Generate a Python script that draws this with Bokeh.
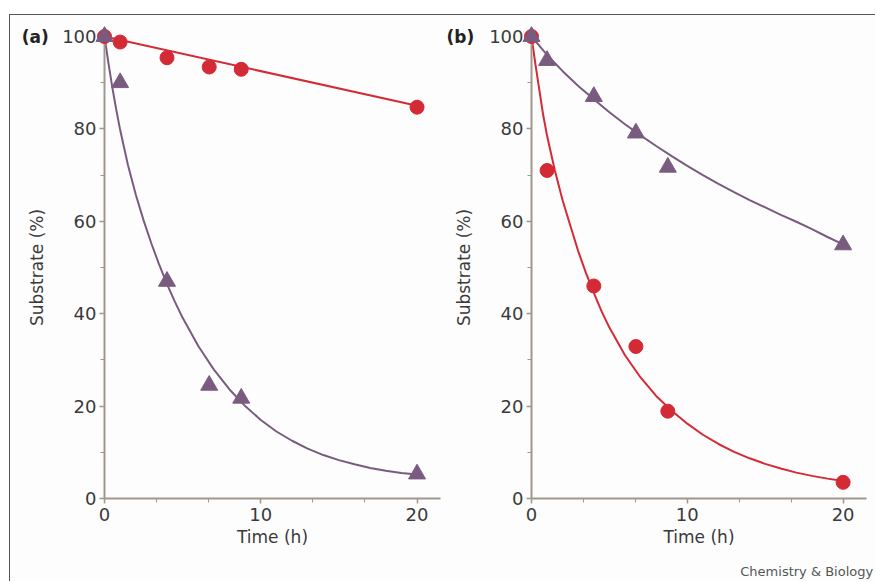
from bokeh.plotting import figure
from bokeh.models import Range1d, SingleIntervalTicker, ColumnDataSource
from bokeh.layouts import row
from bokeh.embed import file_html
from bokeh.resources import INLINE
from bokeh.core.properties import value

# ---- data ----
time_h = [0, 1, 4, 6.7, 8.75, 20]

a_circles = [100, 98.8, 95.4, 93.4, 92.9, 84.7]
a_triangles = [100, 90, 47, 24.5, 21.7, 5.3]
b_circles = [100, 71, 46, 32.9, 18.9, 3.5]
b_triangles = [100, 94.8, 87, 79.1, 71.7, 54.9]

# fitted curves
a_circle_fit_t = [0, 20]
a_circle_fit_y = [100, 85]
a_triangle_fit_t = [0, 0.25, 0.5, 0.75, 1, 1.5, 2, 2.5, 3, 3.5, 4, 4.5, 5, 6, 7, 8, 9, 10,
                    11, 12, 13, 14, 15, 16, 17, 18, 19, 20]
a_triangle_fit_y = [100, 94.3, 89, 84.2, 79.8, 72.2, 65.8, 60.2, 55.2, 50.6, 46.4, 42.6, 39.1,
                    33, 27.9, 23.6, 20, 17, 14.5, 12.5, 10.8, 9.4, 8.3, 7.4, 6.6, 6, 5.5, 5.2]

b_circle_fit_t = [0, 0.25, 0.5, 0.75, 1, 1.5, 2, 2.5, 3, 3.5, 4, 4.5, 5, 6, 7, 8, 9, 10,
                  11, 12, 13, 14, 15, 16, 17, 18, 19, 20]
b_circle_fit_y = [100, 94, 88.5, 83, 78.5, 71, 64.5, 59, 53.5, 48.8, 44.5, 40.5, 37, 31,
                  26.2, 22.2, 19, 16.2, 13.8, 11.8, 10.1, 8.7, 7.5, 6.5, 5.6, 4.9, 4.3, 3.8]
b_triangle_fit_t = [0, 1, 2, 3, 4, 5, 6, 7, 8, 9, 10, 11, 12, 13, 14, 15, 16, 17, 18, 19, 20]
b_triangle_fit_y = [100, 96, 92.5, 89.3, 86.4, 83.6, 81, 78.6, 76.3, 74.1, 72, 70, 68.1,
                    66.3, 64.6, 63, 61.4, 59.9, 58.3, 56.6, 55]

x_label = "Time (h)"
y_label = "Substrate (%)"
credit = "Chemistry & Biology"

RED = "#d42a35"
PURPLE = "#7a5b80"
AXIS = "#a0978d"
FONT = "DejaVu Sans"
BG = "#fdfdfd"

H = 566


def panel(tag, tag_x, circ, tri, cft, cfy, tft, tfy, width, mbl, mbr, credit_text=None):
    p = figure(width=width, height=H, x_range=Range1d(0, 21.5), y_range=Range1d(0, 100),
               output_backend="svg", toolbar_location=None,
               min_border_left=mbl, min_border_right=mbr, min_border_top=21,
               min_border_bottom=H - 21 - 462)
    p.outline_line_color = None
    p.grid.grid_line_color = None
    p.background_fill_color = BG
    p.border_fill_color = BG

    p.xaxis.ticker = SingleIntervalTicker(interval=10, num_minor_ticks=3)
    p.yaxis.ticker = SingleIntervalTicker(interval=20, num_minor_ticks=2)
    for ax in (p.xaxis[0], p.yaxis[0]):
        ax.axis_line_color = AXIS
        ax.axis_line_width = 2
        ax.major_tick_line_color = AXIS
        ax.minor_tick_line_color = AXIS
        ax.major_tick_line_width = 1.5
        ax.minor_tick_line_width = 1
        ax.major_tick_in = 0
        ax.minor_tick_in = 0
        ax.major_tick_out = 5
        ax.minor_tick_out = 4
        ax.major_label_text_font = FONT
        ax.major_label_text_font_size = "18px"
        ax.major_label_text_color = "#3a3a3a"
        ax.axis_label_text_font = FONT
        ax.axis_label_text_font_size = "17px"
        ax.axis_label_text_font_style = "normal"
        ax.axis_label_text_color = "#3a3a3a"
    p.xaxis.axis_label = x_label
    p.yaxis.axis_label = y_label
    p.xaxis.major_label_standoff = 4
    p.yaxis.major_label_standoff = 3
    p.xaxis.axis_label_standoff = 3
    p.yaxis.axis_label_standoff = 12

    p.line(cft, cfy, line_color=RED, line_width=2)
    p.line(tft, tfy, line_color=PURPLE, line_width=2)
    src_c = ColumnDataSource(dict(t=time_h, v=circ))
    src_t = ColumnDataSource(dict(t=time_h, v=tri))
    p.scatter("t", "v", source=src_c, marker="circle", size=14, color=RED, level="overlay")
    p.scatter("t", "v", source=src_t, marker="triangle", size=17, color=PURPLE, level="overlay")

    p.text(x=[tag_x], y=[100], text=[tag], text_font=value(FONT), text_font_size="17px",
           text_font_style="bold", text_color="#222222", text_baseline="middle",
           text_align="left", level="overlay")
    if credit_text:
        p.text(x=[13.4], y=[-15.9], text=[credit_text], text_font=value(FONT),
               text_font_size="13px", text_color="#555555", text_baseline="middle",
               text_align="left", level="overlay")
    return p


p1 = panel("(a)", -5.3, a_circles, a_triangles, a_circle_fit_t, a_circle_fit_y,
           a_triangle_fit_t, a_triangle_fit_y, width=434, mbl=94, mbr=4)
p2 = panel("(b)", -5.45, b_circles, b_triangles, b_circle_fit_t, b_circle_fit_y,
           b_triangle_fit_t, b_triangle_fit_y, width=431, mbl=87, mbr=9, credit_text=credit)

layout = row(p1, p2, margin=(14, 0, 0, 9),
             styles={"border-top": "1px solid #555555", "border-left": "1px solid #555555",
                     "background-color": BG})

open("out.html", "w").write(file_html(layout, INLINE))
